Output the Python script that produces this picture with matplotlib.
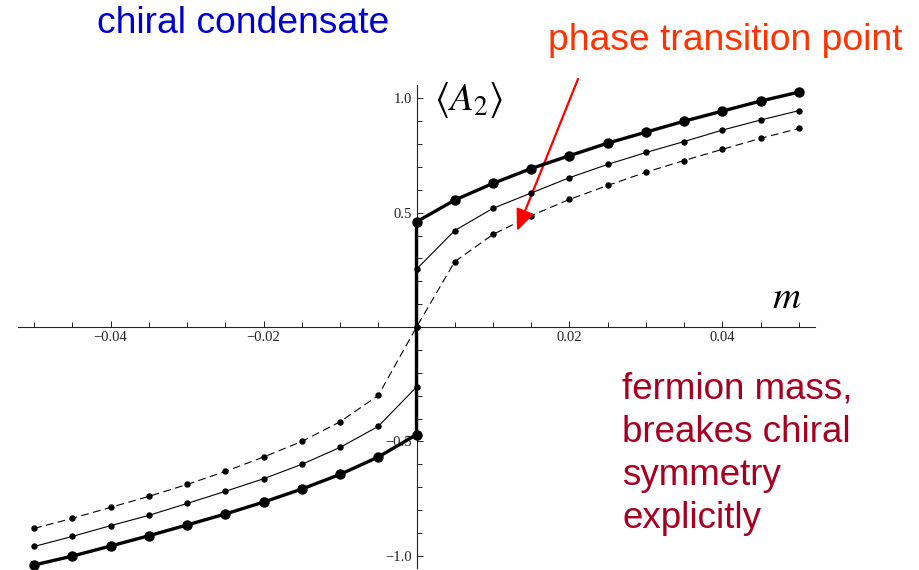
import matplotlib
matplotlib.use("Agg")
import matplotlib.pyplot as plt
from matplotlib.ticker import MultipleLocator, FixedLocator, FuncFormatter

# ---- data ----
m_vals = [-0.05, -0.045, -0.04, -0.035, -0.03, -0.025, -0.02, -0.015, -0.01, -0.005, 0.0,
          0.0, 0.005, 0.01, 0.015, 0.02, 0.025, 0.03, 0.035, 0.04, 0.045, 0.05]
a2_thick = [-1.040, -1.001, -0.957, -0.912, -0.865, -0.817, -0.765, -0.708, -0.644, -0.568, -0.470,
            0.460, 0.555, 0.628, 0.693, 0.749, 0.804, 0.852, 0.900, 0.944, 0.988, 1.027]
a2_thin = [-0.959, -0.915, -0.868, -0.823, -0.771, -0.718, -0.663, -0.600, -0.526, -0.434, -0.262,
           0.253, 0.422, 0.519, 0.586, 0.653, 0.711, 0.763, 0.811, 0.861, 0.905, 0.946]
a2_dashed = [-0.880, -0.836, -0.788, -0.740, -0.688, -0.631, -0.568, -0.500, -0.414, -0.299, 0.0,
             0.0, 0.286, 0.405, 0.487, 0.558, 0.619, 0.677, 0.728, 0.777, 0.825, 0.868]
x_major = [-0.04, -0.02, 0.02, 0.04]
y_major = [-1.0, -0.5, 0.5, 1.0]

W, H = 919, 570
fig = plt.figure(figsize=(W / 100, H / 100), dpi=100)
# axes placed by pixel extents: x from 18 to 815 px, y from 85 to 568 px (top-origin)
ax = fig.add_axes([18 / W, (H - 568) / H, (815 - 18) / W, (568 - 85) / H])
ax.set_xlim(-0.0521, 0.0521)
ax.set_ylim(-1.053, 1.058)

for s in ("top", "right"):
    ax.spines[s].set_visible(False)
ax.spines["left"].set_position(("data", 0))
ax.spines["bottom"].set_position(("data", 0))
for s in ("left", "bottom"):
    ax.spines[s].set_linewidth(0.8)
    ax.spines[s].set_color("#222222")

ax.xaxis.set_major_locator(FixedLocator(x_major))
ax.yaxis.set_major_locator(FixedLocator(y_major))
ax.xaxis.set_minor_locator(MultipleLocator(0.005))
ax.yaxis.set_minor_locator(MultipleLocator(0.1))

def fmt(v, pos, nd):
    s = f"{v:.{nd}f}"
    return s.replace("-", "\u2212")

ax.xaxis.set_major_formatter(FuncFormatter(lambda v, p: fmt(v, p, 2)))
ax.yaxis.set_major_formatter(FuncFormatter(lambda v, p: fmt(v, p, 1)))
ax.tick_params(which="both", direction="in", color="#222222", width=0.7)
ax.tick_params(which="major", length=4.5)
ax.tick_params(which="minor", length=3.5)
ax.tick_params(axis="both", labelsize=10.5, pad=3, labelcolor="#222222")
for lab in ax.get_xticklabels() + ax.get_yticklabels():
    lab.set_fontfamily("Liberation Serif")

# series
ax.plot(m_vals, a2_dashed, color="black", lw=0.8, ls=(0, (7, 4)), marker="o", ms=3.6,
        clip_on=False, zorder=3)
ax.plot(m_vals, a2_thin, color="black", lw=0.8, ls="-", marker="o", ms=3.6,
        clip_on=False, zorder=4)
ax.plot(m_vals, a2_thick, color="black", lw=2.4, ls="-", marker="o", ms=6.5,
        clip_on=False, zorder=5)

plt.rcParams["mathtext.fontset"] = "stix"
fig.text(434 / W, 1 - 100 / H, r"$\langle A_2\rangle$", fontsize=28, ha="left", va="center",
         color="black")
fig.text(787 / W, 1 - 297 / H, r"$m$", fontsize=28, ha="center", va="center", color="black")

# annotations
fig.text(97 / W, 1 - 33 / H, "chiral condensate", fontsize=26.8, color="#0000CC",
         family="Liberation Sans", ha="left", va="baseline")
fig.text(548 / W, 1 - 50 / H, "phase transition point", fontsize=26.8, color="#FF3300",
         family="Liberation Sans", ha="left", va="baseline")
fig.text(622 / W, 1 - 528 / H, "fermion mass,\nbreakes chiral\nsymmetry\nexplicitly",
         fontsize=26.5, color="#A50021", family="Liberation Sans", ha="left", va="baseline",
         linespacing=1.3)

ax.annotate("", xy=(517, H - 231), xycoords="figure pixels",
            xytext=(578, H - 79), textcoords="figure pixels",
            arrowprops=dict(arrowstyle="-|>,head_length=1.3,head_width=0.55", color="#FF0000",
                            lw=1.6, shrinkA=0, shrinkB=0))

fig.savefig("out.png", dpi=100)
